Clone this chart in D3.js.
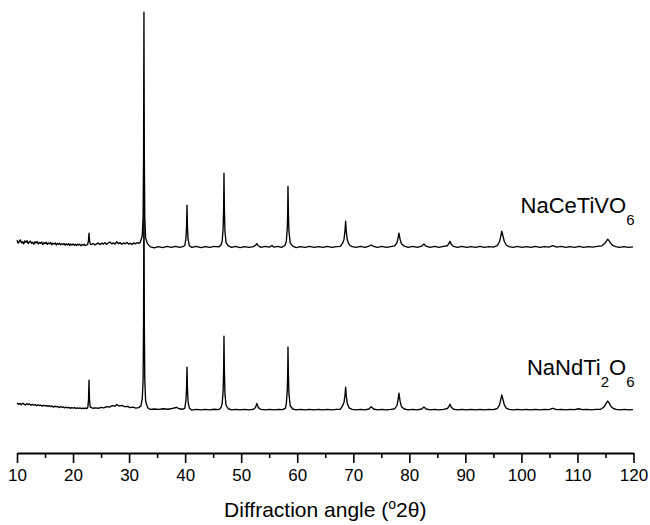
<!DOCTYPE html>
<html>
<head>
<meta charset="utf-8">
<script src="https://cdn.jsdelivr.net/npm/d3@7"></script>
<style>
  body { margin: 0; background: #fff; }
  text { font-family: "Liberation Sans", Arial, sans-serif; fill: #000; }
</style>
</head>
<body>
<div id="graph"></div>
<script>
// x axis ticks
let majorTicks = [10, 20, 30, 40, 50, 60, 70, 80, 90, 100, 110, 120];
let minorTicks = [15, 25, 35, 45, 55, 65, 75, 85, 95, 105, 115];

// sample names (formula parts, sub = subscript)
let sampleNames = [
  [{t: "NaCeTiVO"}, {t: "6", sub: true}],
  [{t: "NaNdTi"}, {t: "2", sub: true}, {t: "O"}, {t: "6", sub: true}]
];
// stacking offsets of the traces (a.u.)
let traceOffsets = [700, 0];

// NaCeTiVO6 pattern, [2theta, intensity a.u.]
let naCeTiVO6 = [
  [10.0, 20],[10.2, 8],[10.4, 16],[10.6, 22],[10.8, 9],[11.0, 14],[11.2, 5],[11.4, 18],[11.6, 11],[11.8, 19],
  [12.0, 6],[12.2, 13],[12.4, 17],[12.6, 7],[12.8, 12],[13.0, 3],[13.2, 14],[13.4, 9],[13.6, 15],[13.8, 4],
  [14.0, 11],[14.2, 7],[14.4, 13],[14.6, 2],[14.8, 10],[15.0, 6],[15.2, 12],[15.4, 3],[15.6, 9],[15.8, 5],
  [16.0, 11],[16.2, 1],[16.4, 8],[16.6, 4],[16.8, 9],[17.0, 0],[17.2, 7],[17.4, 3],[17.6, 8],[17.8, 1],
  [18.0, 5],[18.2, 2],[18.4, 7],[18.6, -1],[18.8, 5],[19.0, 1],[19.2, 6],[19.4, -2],[19.6, 4],[19.8, 0],
  [20.0, 5],[20.2, -1],[20.4, 3],[20.6, -2],[20.8, 4],[21.0, 0],[21.2, 3],[21.4, -3],[21.6, 2],[21.8, -1],
  [22.0, 3],[22.2, -2],[22.4, 0],
  [22.6, 3],[22.75, 18],[22.85, 51],[22.95, 18],[23.1, 3],
  [23.3, 2],[23.6, 7],[23.9, 0],[24.2, 5],[24.5, 9],[24.8, 2],[25.1, 8],[25.4, 4],[25.7, 10],[26.0, 3],
  [26.3, 9],[26.6, 13],[26.9, 5],[27.2, 9],[27.5, 4],[27.8, 14],[28.1, 6],[28.4, 10],[28.7, 3],[29.0, 9],
  [29.3, 5],[29.6, 11],[29.9, 4],[30.2, 8],[30.5, 2],[30.8, 9],[31.1, 5],[31.4, 10],[31.7, 7],[32.0, 12],
  [32.35, 40],[32.5, 120],[32.58, 380],[32.65, 1000],[32.72, 380],[32.8, 120],[32.95, 30],[33.3, 5],
  [33.8, -8],[34.5, -12],[35.2, -7],[36.0, -11],[36.8, -6],[37.5, -10],[38.3, -6],[39.0, -10],[39.6, -7],
  [39.95, -2],[40.15, 30],[40.25, 80],[40.33, 171],[40.41, 80],[40.52, 25],[40.75, -3],
  [41.2, -10],[42.0, -6],[42.8, -11],[43.6, -7],[44.4, -10],[45.2, -6],[46.0, -8],[46.4, 0],
  [46.6, 15],[46.78, 70],[46.87, 160],[46.93, 308],[47.0, 160],[47.1, 60],[47.3, 10],[47.7, -4],
  [48.3, -10],[49.0, -6],[49.8, -11],[50.6, -7],[51.4, -10],[52.2, -7],[52.6, 0],[52.8, 6],[53.0, -2],
  [53.5, -10],[54.3, -6],[55.0, -9],[55.5, -2],[55.8, -9],[56.5, -6],[57.2, -10],[57.8, -2],
  [58.05, 15],[58.22, 70],[58.3, 140],[58.35, 252],[58.42, 140],[58.52, 60],[58.75, 8],[59.2, -5],
  [59.8, -11],[60.6, -7],[61.4, -10],[62.2, -6],[63.0, -10],[63.8, -7],[64.6, -10],[65.4, -6],[66.2, -10],
  [67.0, -7],[67.7, -6],[68.1, 8],
  [68.35, 25],[68.52, 60],[68.64, 102],[68.76, 55],[68.95, 20],[69.3, 0],[69.8, -7],
  [70.5, -10],[71.3, -6],[72.1, -10],[72.8, -5],[73.2, 0],[73.6, -6],[74.3, -10],[75.1, -6],[75.9, -10],
  [76.7, -7],[77.4, -4],[77.8, 10],
  [77.95, 25],[78.15, 51],[78.35, 25],[78.6, 5],[79.1, -5],
  [79.8, -10],[80.6, -6],[81.4, -10],[82.2, -5],[82.6, 4],[83.0, -5],[83.7, -10],[84.5, -6],[85.3, -10],
  [86.1, -6],[86.8, -3],[87.1, 8],[87.25, 16],[87.45, 4],[87.9, -6],
  [88.6, -10],[89.4, -6],[90.2, -10],[91.0, -7],[91.8, -10],[92.6, -6],[93.4, -10],[94.2, -7],[95.0, -9],
  [95.7, -3],[96.1, 15],
  [96.3, 35],[96.5, 59],[96.7, 40],[96.95, 15],[97.3, 0],[97.8, -7],
  [98.5, -10],[99.3, -6],[100.1, -10],[100.9, -7],[101.7, -10],[102.5, -6],[103.3, -10],[104.1, -7],
  [104.9, -9],[105.6, -3],[106.3, -9],[107.1, -6],[107.9, -10],[108.7, -7],[109.5, -10],[110.3, -6],
  [111.1, -10],[111.9, -7],[112.7, -9],[113.5, -6],[114.3, -4],[114.9, 8],
  [115.2, 18],[115.4, 25],[115.6, 20],[115.9, 8],[116.3, -2],[116.8, -7],
  [117.5, -10],[118.3, -7],[119.1, -10],[119.9, -8]
];

// NaNdTi2O6 pattern, [2theta, intensity a.u.]
let naNdTi2O6 = [
  [10.0, 22],[10.25, 16],[10.5, 20],[10.75, 14],[11.0, 21],[11.25, 17],[11.5, 13],[11.75, 19],[12.0, 15],
  [12.25, 18],[12.5, 12],[12.75, 16],[13.0, 13],[13.25, 15],[13.5, 10],[13.75, 14],[14.0, 11],[14.25, 13],
  [14.5, 8],[14.75, 12],[15.0, 9],[15.25, 11],[15.5, 7],[15.75, 10],[16.0, 6],[16.25, 9],[16.5, 4],
  [16.75, 8],[17.0, 5],[17.25, 7],[17.5, 2],[17.75, 6],[18.0, 3],[18.25, 5],[18.5, 1],[18.75, 4],
  [19.0, 1],[19.25, 3],[19.5, -1],[19.75, 2],[20.0, 0],[20.25, 2],[20.5, -2],[20.75, 1],[21.0, -1],
  [21.25, 1],[21.5, -3],[21.75, 0],[22.0, -2],[22.25, 0],[22.5, -2],
  [22.65, 5],[22.77, 40],[22.85, 120],[22.93, 40],[23.05, 5],
  [23.5, -1],[24.0, 1],[24.5, -1],[25.0, 3],[25.5, 1],[26.0, 6],[26.5, 4],[27.0, 10],[27.5, 8],[27.8, 15],
  [28.2, 9],[28.7, 11],[29.2, 6],[29.7, 7],[30.2, 2],[30.7, 4],[31.2, 0],[31.7, 2],[32.1, 8],
  [32.35, 40],[32.5, 120],[32.58, 370],[32.65, 980],[32.72, 370],[32.8, 120],[32.95, 30],[33.3, 2],
  [33.8, -6],[34.5, -4],[35.3, -6],[36.1, -3],[36.9, -5],[37.7, -2],[38.5, 3],[38.9, -3],[39.6, -5],
  [39.95, 0],[40.15, 35],[40.25, 85],[40.33, 176],[40.41, 85],[40.52, 28],[40.75, 0],
  [41.2, -9],[42.0, -6],[42.8, -8],[43.6, -6],[44.4, -8],[45.2, -5],[46.0, -7],[46.4, 2],
  [46.6, 18],[46.78, 72],[46.87, 165],[46.93, 309],[47.0, 165],[47.1, 62],[47.3, 12],[47.7, -3],
  [48.3, -8],[49.0, -6],[49.8, -8],[50.6, -6],[51.4, -8],[52.2, -5],[52.55, 2],[52.8, 20],[53.05, 2],
  [53.5, -6],[54.3, -8],[55.1, -6],[55.9, -8],[56.7, -6],[57.4, -7],[57.9, 0],
  [58.05, 18],[58.22, 75],[58.3, 145],[58.35, 262],[58.42, 145],[58.52, 62],[58.75, 10],[59.2, -4],
  [59.8, -8],[60.6, -6],[61.4, -8],[62.2, -6],[63.0, -8],[63.8, -6],[64.6, -8],[65.4, -6],[66.2, -8],
  [67.0, -6],[67.7, -5],[68.1, 10],
  [68.35, 25],[68.52, 55],[68.64, 90],[68.76, 50],[68.95, 18],[69.3, 0],[69.8, -6],
  [70.5, -8],[71.3, -6],[72.1, -8],[72.8, -4],[73.2, 6],[73.6, -4],[74.3, -8],[75.1, -6],[75.9, -8],
  [76.7, -6],[77.4, -3],[77.8, 12],
  [77.95, 30],[78.15, 64],[78.35, 30],[78.6, 6],[79.1, -4],
  [79.8, -8],[80.6, -6],[81.4, -8],[82.2, -4],[82.6, 5],[83.0, -4],[83.7, -8],[84.5, -6],[85.3, -8],
  [86.1, -6],[86.8, -2],[87.1, 8],[87.25, 17],[87.45, 5],[87.9, -5],
  [88.6, -8],[89.4, -6],[90.2, -8],[91.0, -6],[91.8, -8],[92.6, -6],[93.4, -8],[94.2, -6],[95.0, -7],
  [95.7, -2],[96.1, 14],
  [96.3, 34],[96.5, 56],[96.7, 38],[96.95, 14],[97.3, 0],[97.8, -6],
  [98.5, -8],[99.3, -6],[100.1, -8],[100.9, -6],[101.7, -8],[102.5, -6],[103.3, -8],[104.1, -6],
  [104.9, -7],[105.6, -1],[106.3, -7],[107.1, -6],[107.9, -8],[108.7, -6],[109.5, -7],[110.2, -3],
  [110.9, -7],[111.7, -6],[112.5, -8],[113.3, -6],[114.1, -6],[114.8, 6],
  [115.1, 20],[115.4, 30],[115.65, 22],[115.95, 8],[116.4, -2],[116.9, -6],
  [117.6, -8],[118.4, -6],[119.2, -8],[119.9, -7]
];

let traces = [naCeTiVO6, naNdTi2O6];

let width = 650, height = 525;
let margin = {top: 0, left: 17, right: 16.5, bottom: 72};
let plotW = width - margin.left - margin.right;
let plotH = height - margin.top - margin.bottom;

let svg = d3.select("#graph")
    .append("svg")
    .attr("width", width)
    .attr("height", height)
    .append("g")
    .attr("transform", `translate(${margin.left}, ${margin.top})`);

let x = d3.scaleLinear()
    .domain([10, 120])
    .range([0, plotW]);

let y = d3.scaleLinear()
    .domain([-193, 1752])
    .range([plotH, 0]);

let line = d3.line()
    .x(d => x(d[0]))
    .y(d => y(d[1]));

traces.forEach((tr, i) => {
  svg.append("path")
      .datum(tr.map(d => [d[0], d[1] + traceOffsets[i]]))
      .attr("fill", "none")
      .attr("stroke", "#000")
      .attr("stroke-width", 1.35)
      .attr("stroke-linejoin", "round")
      .attr("d", line);
});

// sample labels
let labelY = [213, 375];
sampleNames.forEach((parts, i) => {
  let t = svg.append("text")
      .attr("x", x(120) + 1)
      .attr("y", labelY[i])
      .style("text-anchor", "end")
      .style("font-size", "22px");
  parts.forEach(p => {
    let s = t.append("tspan").text(p.t);
    if (p.sub) s.style("font-size", "15px").attr("dy", 12);
    else if (t.selectAll("tspan").size() > 1) s.attr("dy", -12);
  });
});

// minor ticks
svg.append("g")
    .attr("transform", `translate(0, ${plotH})`)
    .call(d3.axisBottom(x).tickValues(minorTicks).tickSize(5).tickSizeOuter(0).tickFormat(""))
    .call(g => g.select(".domain").remove())
    .call(g => g.selectAll("line").attr("stroke-width", 1.6));

// major ticks and axis line
let xAxis = svg.append("g")
    .attr("transform", `translate(0, ${plotH})`)
    .call(d3.axisBottom(x).tickValues(majorTicks).tickSize(10).tickSizeOuter(0).tickPadding(6));
xAxis.select(".domain").attr("stroke-width", 2);
xAxis.selectAll("line").attr("stroke-width", 1.6);
xAxis.selectAll("text")
    .style("font-size", "17px")
    .style("font-family", "'Liberation Sans', Arial, sans-serif");

let title = svg.append("text")
    .attr("x", plotW / 2)
    .attr("y", 517)
    .style("text-anchor", "middle")
    .style("font-size", "21px");
title.append("tspan").text("Diffraction angle (");
title.append("tspan").text("o").style("font-size", "14px").attr("dy", -8);
title.append("tspan").text("2θ)").attr("dy", 8);
</script>
</body>
</html>
